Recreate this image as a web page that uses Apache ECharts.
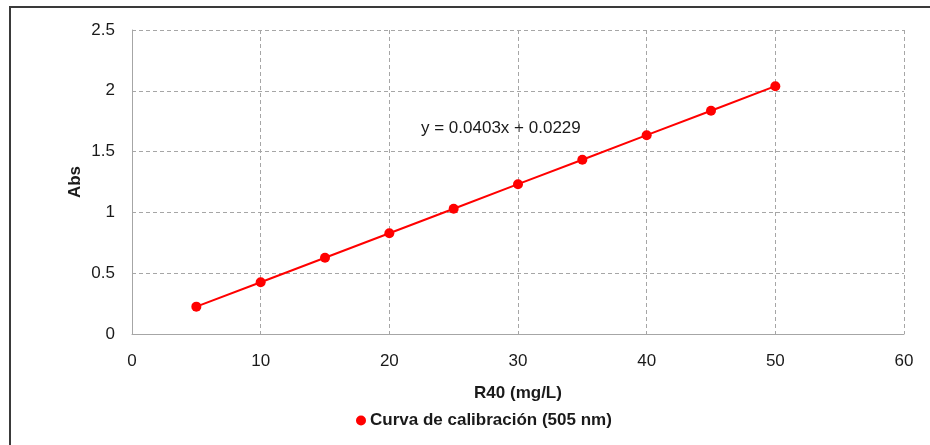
<!DOCTYPE html>
<html>
<head>
<meta charset="utf-8">
<style>
  html, body { margin: 0; padding: 0; background: #fff; }
  #chart { width: 930px; height: 445px; }
</style>
<script src="https://cdn.jsdelivr.net/npm/echarts@6/dist/echarts.min.js"></script>
</head>
<body>
<div id="chart"></div>
<script>
// Calibration standards: concentration of R40 (mg/L) and measured absorbance at 505 nm
const concentrations = [5, 10, 15, 20, 25, 30, 35, 40, 45, 50];
const absorbance = [0.225, 0.426, 0.627, 0.829, 1.030, 1.232, 1.433, 1.635, 1.836, 2.038];
const seriesName = 'Curva de calibración (505 nm)';
const equationText = 'y = 0.0403x + 0.0229';
const xTitle = 'R40 (mg/L)';
const yTitle = 'Abs';

const font = 'Arial, "Liberation Sans", sans-serif';
const chart = echarts.init(document.getElementById('chart'), null, { renderer: 'canvas' });

const gridLine = { show: true, lineStyle: { color: '#a6a6a6', width: 1, type: [4, 3] } };
const axisLine = { show: true, lineStyle: { color: '#a6a6a6', width: 1 } };

chart.setOption({
  backgroundColor: '#ffffff',
  animation: false,
  grid: { left: 132, top: 30, right: 26, bottom: 111, containLabel: false },
  xAxis: {
    type: 'value',
    min: 0, max: 60, interval: 10,
    name: xTitle,
    nameLocation: 'middle',
    nameGap: 51,
    nameMoveOverlap: false,
    nameTextStyle: { fontFamily: font, fontSize: 17, fontWeight: 'bold', color: '#1a1a1a' },
    axisLine: axisLine,
    axisTick: { show: false },
    splitLine: gridLine,
    axisLabel: { fontFamily: font, fontSize: 17, color: '#1a1a1a', margin: 19 }
  },
  yAxis: {
    type: 'value',
    min: 0, max: 2.5, interval: 0.5,
    name: yTitle,
    nameLocation: 'middle',
    nameGap: 48,
    nameMoveOverlap: false,
    nameTextStyle: { fontFamily: font, fontSize: 17, fontWeight: 'bold', color: '#1a1a1a' },
    axisLine: axisLine,
    axisTick: { show: false },
    splitLine: gridLine,
    axisLabel: { fontFamily: font, fontSize: 17, color: '#1a1a1a', margin: 17 }
  },
  legend: {
    left: 351, top: 407,
    itemWidth: 10, itemHeight: 10, itemGap: 10,
    icon: 'circle',
    textStyle: { fontFamily: font, fontSize: 17, fontWeight: 'bold', color: '#1a1a1a', padding: [0, 0, 0, -1] },
    data: [seriesName]
  },
  graphic: [
    {
      type: 'rect',
      silent: true,
      shape: { x: 10, y: 7, width: 940, height: 460 },
      style: { fill: 'none', stroke: '#3a3a3a', lineWidth: 2 }
    },
    {
      type: 'text',
      left: 421, top: 120,
      style: { text: equationText, font: '17px ' + font, fill: '#1a1a1a' }
    }
  ],
  series: [{
    name: seriesName,
    type: 'line',
    data: concentrations.map((c, i) => [c, absorbance[i]]),
    symbol: 'circle',
    symbolSize: 10,
    color: '#ff0000',
    lineStyle: { color: '#ff0000', width: 2 },
    itemStyle: { color: '#ff0000' }
  }]
});
</script>
</body>
</html>
